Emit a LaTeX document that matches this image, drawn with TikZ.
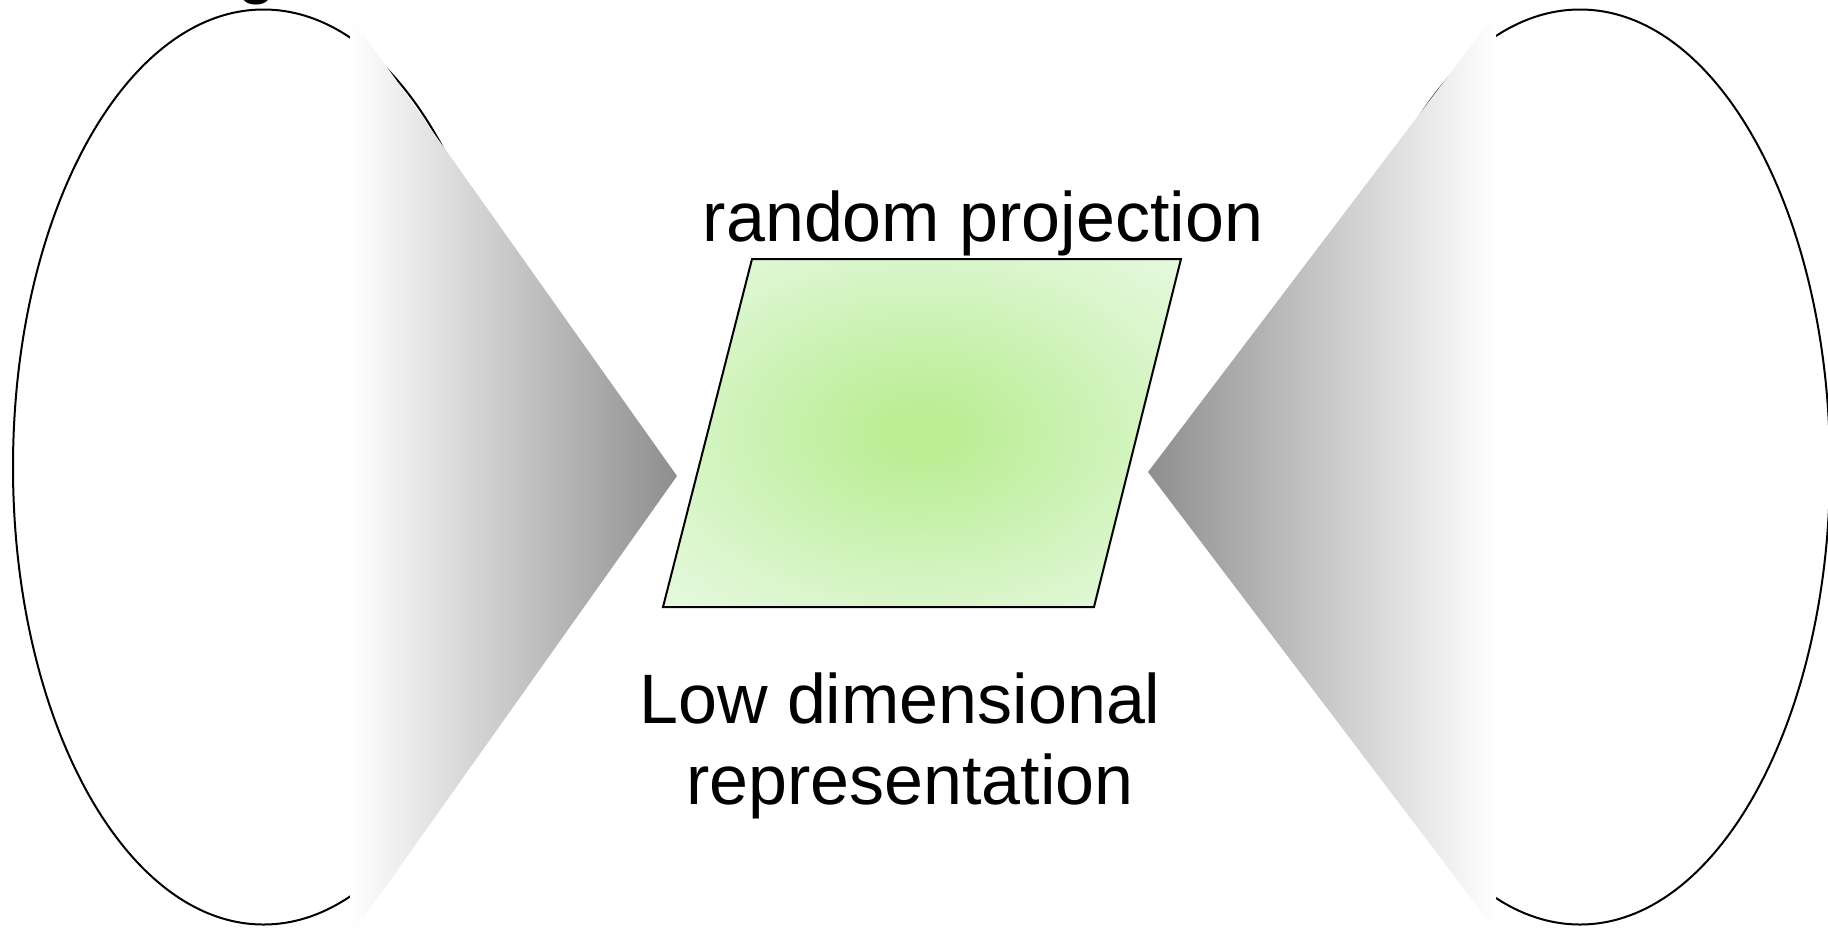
\documentclass[tikz,border=0pt]{standalone}
\usepackage{fontspec}
\setmainfont{Liberation Sans}
\definecolor{gin}{RGB}{188,238,150}
\definecolor{gmida}{RGB}{204,242,180}
\definecolor{gmidb}{RGB}{219,246,205}
\definecolor{gout}{RGB}{234,249,227}
\definecolor{conegray}{RGB}{142,142,142}
\pgfdeclareradialshading{greenglow}{\pgfpoint{0bp}{0bp}}{color(0bp)=(gin); color(4bp)=(gin); color(16bp)=(gmida); color(26bp)=(gmidb); color(38bp)=(gout); color(50bp)=(gout)}
\begin{document}
\begin{tikzpicture}[x=1pt,y=-1pt,line join=miter,
  ring/.style={draw=black,line width=2pt},
  conel/.style={left color=white,right color=conegray,draw=none},
  coner/.style={left color=conegray,right color=white,draw=none},
  plane/.style={draw=black,line width=2pt,shading=greenglow},
  txt/.style={font=\fontsize{70}{82}\selectfont,inner sep=0pt,anchor=base}]
\useasboundingbox (0,0) rectangle (1828,927);
\clip (0,0) rectangle (1828,927);
% high dimensional spaces
\draw[ring] (263.5,467) ellipse [x radius=250.5, y radius=457.5];
\draw[ring] (1580,467) ellipse [x radius=250, y radius=457.5];
% projection cones
\path[conel] (350,15) -- (677,476) -- (350,937) -- cycle;
\path[coner] (1496,13) -- (1148,472) -- (1496,931) -- cycle;
% low dimensional plane
\shadedraw[plane] (752,259) -- (1181,259) -- (1094,607) -- (663,607) -- cycle;
% texts
\node[txt] (gtop) at (257,-10) {g};
\node[txt] (rp) at (983,241) {random projection};
\node[txt] (ld1) at (900,723) {Low dimensional};
\node[txt] (ld2) at (910,804) {representation};
\end{tikzpicture}
\end{document}
